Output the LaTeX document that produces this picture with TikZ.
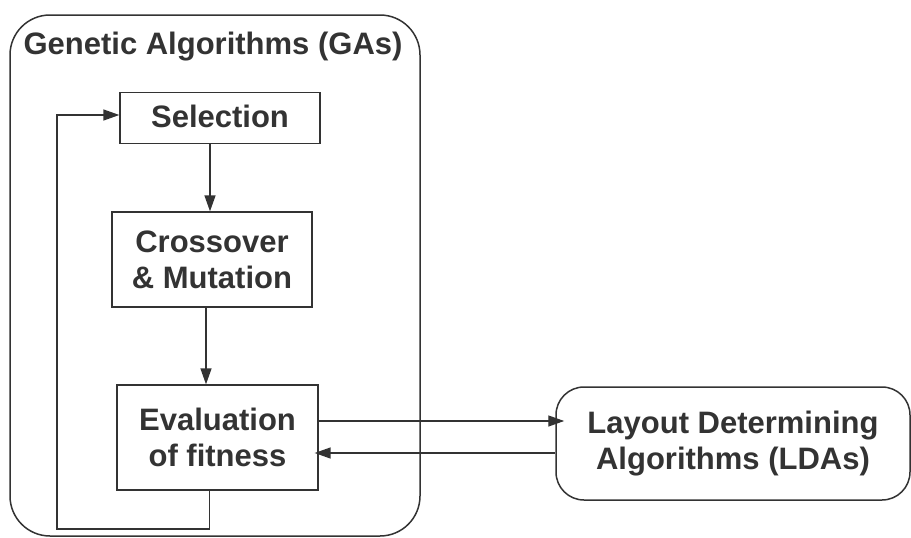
\documentclass[tikz,border=0pt]{standalone}
\usepackage{fontspec}
\setmainfont{Liberation Sans}
\usepackage{tikz}
\usetikzlibrary{arrows.meta,positioning,calc}
\definecolor{inkgray}{HTML}{333333}
\tikzset{
  stagebox/.style={
    draw=inkgray,
    line width=1.3pt,
    align=center,
    inner sep=0pt,
    text=inkgray,
    font=\fontsize{31}{36}\selectfont\bfseries
  },
  groupbox/.style={
    draw=inkgray,
    line width=1.5pt,
    rounded corners=40pt,
    inner sep=0pt
  },
  gaflow/.style={-{Triangle[length=16pt,width=11pt]},line width=1.4pt,draw=inkgray}
}

\begin{document}
\begin{tikzpicture}[x=1pt,y=-1pt]
  \useasboundingbox (0,0) rectangle (911,538);
  % GA frame and its stages
  \node[groupbox,minimum width=410pt,minimum height=521pt] (ga) at (215,275.5) {};
  \node[stagebox,draw=none] (gatitle) at (213,47) {Genetic Algorithms (GAs)};
  \node[stagebox,minimum width=200pt,minimum height=51pt,text depth=4pt] (select) at (220,118) {Selection};
  \node[stagebox,minimum width=200pt,minimum height=95pt] (cross) at (212,259.5) {Crossover\\\& Mutation};
  \node[stagebox,minimum width=201pt,minimum height=105pt] (evalfit) at (217.5,437.5) {Evaluation\\of fitness};
  % external LDA block
  \node[stagebox,rounded corners=28pt,line width=1.5pt,minimum width=354pt,minimum height=113pt] (lda) at (733,443.5) {Layout Determining\\Algorithms (LDAs)};
  \coordinate (loopcorner) at (57,529);
  \draw[gaflow] ([xshift=-10pt]select.south) -- ([xshift=-10pt]select.south |- cross.north);
  \draw[gaflow] ([xshift=-6pt]cross.south) -- ([xshift=-6pt]cross.south |- evalfit.north);
  \draw[gaflow] ([xshift=-8pt]evalfit.south) |- (loopcorner) |- ([yshift=3pt]select.west);
  \draw[gaflow] ([yshift=16.5pt]evalfit.east) -- ([xshift=9pt,yshift=22.5pt]lda.west);
  \draw[gaflow] ([yshift=-9.5pt]lda.west) -- ([xshift=-4pt,yshift=-15.5pt]evalfit.east);
\end{tikzpicture}
\end{document}
